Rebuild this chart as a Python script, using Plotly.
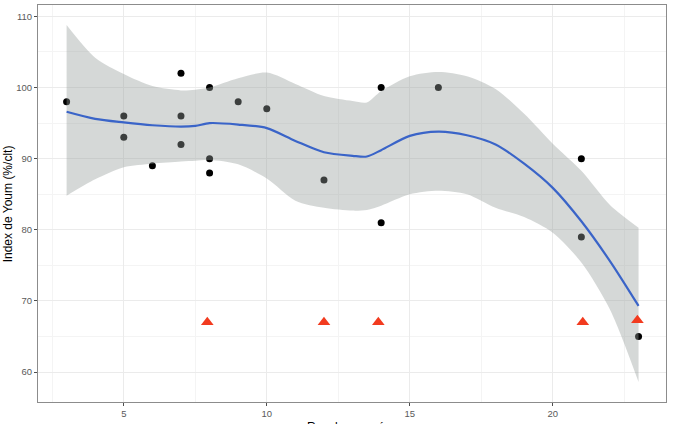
import plotly.graph_objects as go

# Observed points
pts_x = [3, 5, 5, 6, 7, 7, 7, 8, 8, 8, 9, 10, 12, 14, 14, 16, 21, 21, 23]
pts_y = [98, 96, 93, 89, 102, 96, 92, 100, 90, 88, 98, 97, 87, 100, 81, 100, 90, 79, 65]

# Red triangles
tri_x = [7.92, 12.0, 13.9, 21.05, 22.96]
tri_y = [67, 67, 67, 67, 67.3]

# Smooth fit and confidence band
fit_x = [3, 4, 5, 6, 7, 7.5, 8, 9, 10, 11, 12, 13, 13.5, 14, 15, 16, 17, 18, 19, 20, 21, 22, 23]
fit_y = [96.6, 95.6, 95.1, 94.7, 94.5, 94.6, 95.0, 94.8, 94.3, 92.5, 90.9, 90.4, 90.3, 91.2, 93.2, 93.8, 93.3, 92.0, 89.3, 85.9, 81.2, 75.6, 69.3]
upper = [108.8, 104.2, 101.9, 100.2, 99.6, 99.7, 100.0, 101.3, 102.1, 100.5, 98.8, 98.1, 97.9, 99.5, 101.6, 102.2, 101.6, 99.8, 96.3, 92.1, 88.3, 83.5, 80.3]
lower = [84.8, 87.1, 88.8, 89.3, 89.6, 89.7, 89.8, 89.2, 87.2, 84.1, 83.1, 82.7, 82.8, 83.4, 85.0, 85.5, 85.0, 83.1, 81.8, 79.6, 75.4, 68.8, 58.6]

x_ticks = [5, 10, 15, 20]
y_ticks = [60, 70, 80, 90, 100, 110]

fig = go.Figure()
fig.add_trace(go.Scatter(x=pts_x, y=pts_y, mode="markers",
                         marker=dict(color="black", size=7), hoverinfo="skip"))
fig.add_trace(go.Scatter(x=fit_x, y=lower, mode="lines",
                         line=dict(width=0, shape="spline", smoothing=0.8), hoverinfo="skip"))
fig.add_trace(go.Scatter(x=fit_x, y=upper, mode="lines", fill="tonexty",
                         fillcolor="rgba(150,158,156,0.40)",
                         line=dict(width=0, shape="spline", smoothing=0.8), hoverinfo="skip"))
fig.add_trace(go.Scatter(x=fit_x, y=fit_y, mode="lines",
                         line=dict(color="#3a64c8", width=2.2, shape="spline", smoothing=0.8)))
fig.add_trace(go.Scatter(x=tri_x, y=tri_y, mode="markers",
                         marker=dict(color="#f23b1f", size=11, symbol="triangle-up")))

font = "Liberation Sans, Arial, sans-serif"
axis_common = dict(showline=True, mirror=True, linecolor="#8c8c8c", linewidth=1,
                   showgrid=True, gridcolor="#ebebeb", gridwidth=1, zeroline=False,
                   ticks="outside", ticklen=3, tickcolor="#4d4d4d",
                   tickfont=dict(family=font, size=9.5, color="#5a5a5a"))

fig.update_layout(
    width=680, height=424,
    margin=dict(l=38, r=14, t=5, b=22),
    paper_bgcolor="white", plot_bgcolor="white",
    showlegend=False,
    font=dict(family=font),
    xaxis=dict(range=[2.0, 23.96], tickvals=x_ticks, ticktext=[str(v) for v in x_ticks],
               minor=dict(tick0=2.5, dtick=5, showgrid=True, gridcolor="#f4f4f4", gridwidth=1, ticks=""),
               **axis_common),
    yaxis=dict(range=[55.8, 111.6], tickvals=y_ticks, ticktext=[str(v) for v in y_ticks],
               minor=dict(tick0=65, dtick=10, showgrid=True, gridcolor="#f4f4f4", gridwidth=1, ticks=""),
               **axis_common),
    annotations=[
        dict(text="Recul en années", xref="paper", yref="paper", x=0.5, y=-0.04,
             xanchor="center", yanchor="top", showarrow=False,
             font=dict(family=font, size=12, color="black")),
        dict(text="Index de Youm (%/clt)", xref="paper", yref="paper", x=-0.048, y=0.5,
             xanchor="center", yanchor="middle", textangle=-90, showarrow=False,
             font=dict(family=font, size=12, color="black")),
    ],
)

fig.write_html("out.html")
